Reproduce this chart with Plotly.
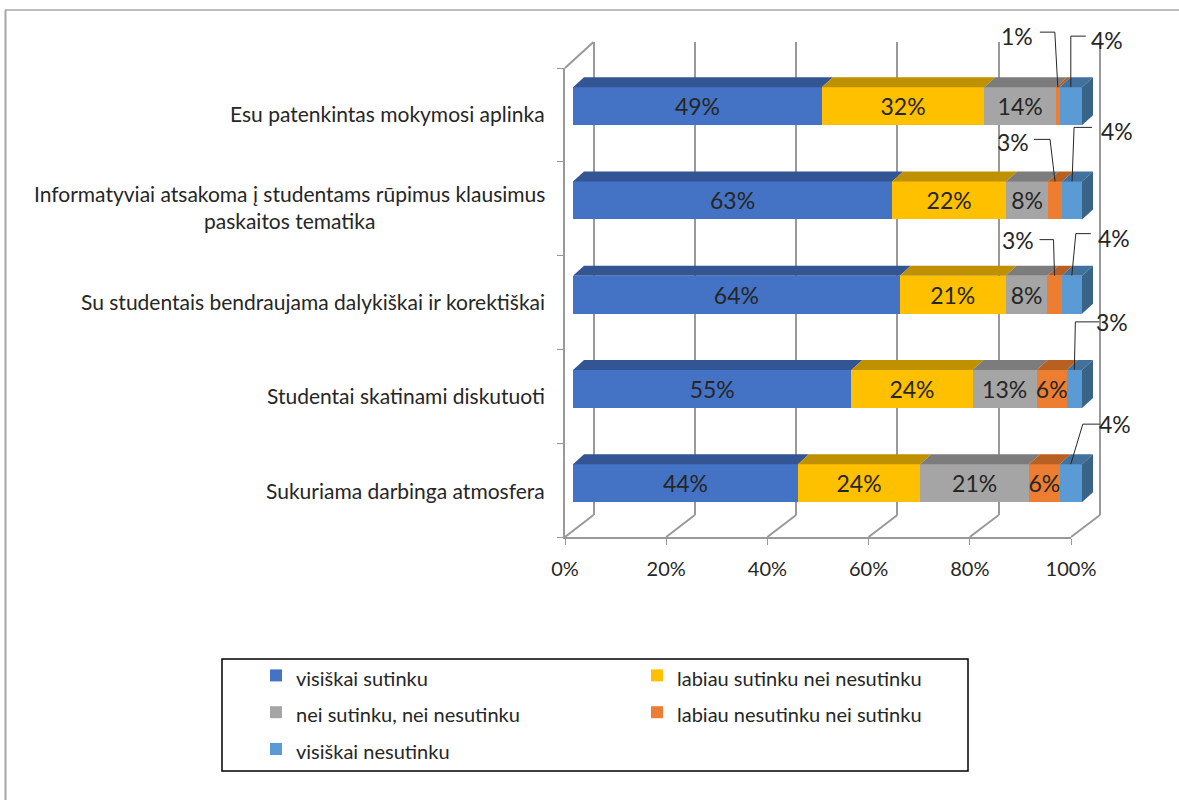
import plotly.graph_objects as go

W, H = 1179, 800
M_RIGHT = 45

categories = [
    "Esu patenkintas mokymosi aplinka",
    "Informatyviai atsakoma į studentams rūpimus klausimus<br>paskaitos tematika",
    "Su studentais bendraujama dalykiškai ir korektiškai",
    "Studentai skatinami diskutuoti",
    "Sukuriama darbinga atmosfera",
]
series_names = [
    "visiškai sutinku",
    "labiau sutinku nei nesutinku",
    "nei sutinku, nei nesutinku",
    "labiau nesutinku nei sutinku",
    "visiškai nesutinku",
]
visiskai_sutinku = [48.9, 62.7, 64.2, 54.7, 44.2]
labiau_sutinku = [31.9, 22.4, 20.8, 23.8, 24.0]
nei_nei = [14.1, 8.2, 8.2, 12.6, 21.4]
labiau_nesutinku = [0.7, 2.8, 2.8, 5.9, 6.0]
visiskai_nesutinku = [4.4, 3.9, 4.0, 3.0, 4.4]
series_values = [visiskai_sutinku, labiau_sutinku, nei_nei, labiau_nesutinku, visiskai_nesutinku]

front_colors = ["#4472C4", "#FFC000", "#A5A5A5", "#ED7D31", "#5B9BD5"]
top_colors = ["#335593", "#BF9000", "#7C7C7C", "#B85F22", "#41719C"]
side_color = "#386488"
grid_color = "#999999"
text_color = "#262626"
FONT = "Lato, Carlito, Calibri, sans-serif"

x_ticks = [0, 20, 40, 60, 80, 100]
x_tick_labels = ["0%", "20%", "40%", "60%", "80%", "100%"]

# Callouts: category index, series index, elbow offset from anchor, tail length, label offset from tail
callouts = [
    (0, 3, -3, -55, -15, -23, 4),
    (0, 4, 0, -51, 15, 21, 4),
    (1, 3, -5, -42, -16, -21, 3),
    (1, 4, 2, -54, 18, 25, 4),
    (2, 3, -1, -36, -14, -22, 0),
    (2, 4, 4, -42, 15, 23, 4),
    (3, 4, 1, -48, 24, 13, 0),
    (4, 4, 12, -40, 17, 15, 0),
]

# Pixel geometry of the pseudo-3D chart
FRONT_L, FRONT_R, FRONT_T, FRONT_B = 565, 1071, 68, 537
BACK_L, BACK_R, BACK_T, BACK_B = 593.5, 1100, 42, 515
BAR_L, BAR_UNIT, BAR_T, BAR_STEP = 573, 5.09, 59, 94.25
BAR_DEPTH_X, BAR_DEPTH_Y = 11, 10
BAR_THICK = 38


def fx(px):
    return px / (W - M_RIGHT)


def fy(py):
    return 1 - py / H


n = len(categories)
bar_half = BAR_THICK / BAR_STEP / 2
depth_x = BAR_DEPTH_X / BAR_UNIT
depth_y = BAR_DEPTH_Y / BAR_STEP
bar_range = (BACK_R - BAR_L) / BAR_UNIT
back_unit = (BACK_R - BACK_L) / 100

fig = go.Figure()

# Back wall subplot (gridlines only)
fig.add_trace(go.Scatter(x=[0], y=[0], mode="markers", marker=dict(opacity=0), hoverinfo="skip",
                         showlegend=False, xaxis="x", yaxis="y"))

# Cumulative stacks
cum = [[0.0] * n]
for vals in series_values:
    cum.append([a + b for a, b in zip(cum[-1], vals)])

callout_keys = {(c[0], c[1]) for c in callouts}
for s, (name, vals) in enumerate(zip(series_names, series_values)):
    labels = ["" if (i, s) in callout_keys else f"{v:.0f}%" for i, v in enumerate(vals)]
    fig.add_trace(go.Bar(
        name=f'<span style="font-size:20px">{name}</span>', x=vals, y=list(range(n)), orientation="h",
        marker=dict(color=front_colors[s], line=dict(width=0)),
        text=labels, textposition="inside", insidetextanchor="middle", textangle=0,
        constraintext="none", textfont=dict(family=FONT, size=23, color=text_color),
        xaxis="x2", yaxis="y2",
    ))

for s in range(len(series_values)):
    xs, ys = [], []
    for i in range(n):
        x0, x1 = cum[s][i], cum[s + 1][i]
        top = i - bar_half
        xs += [x0, x1, x1 + depth_x, x0 + depth_x, x0, None]
        ys += [top, top, top - depth_y, top - depth_y, top, None]
    fig.add_trace(go.Scatter(x=xs, y=ys, mode="lines", fill="toself", fillcolor=top_colors[s],
                             line=dict(width=0), hoverinfo="skip", showlegend=False,
                             xaxis="x2", yaxis="y2"))

xs, ys = [], []
for i in range(n):
    xe = cum[-1][i]
    top, bot = i - bar_half, i + bar_half
    xs += [xe, xe + depth_x, xe + depth_x, xe, xe, None]
    ys += [top, top - depth_y, bot - depth_y, bot, top, None]
fig.add_trace(go.Scatter(x=xs, y=ys, mode="lines", fill="toself", fillcolor=side_color,
                         line=dict(width=0), hoverinfo="skip", showlegend=False,
                         xaxis="x2", yaxis="y2"))

# Front-plane axes
fig.add_trace(go.Scatter(x=[0], y=[0], mode="markers", marker=dict(opacity=0), hoverinfo="skip",
                         showlegend=False, xaxis="x3", yaxis="y3"))

shapes = []


def seg(x0, y0, x1, y1, color=grid_color, width=2):
    shapes.append(dict(type="line", xref="paper", yref="paper", x0=fx(x0), y0=fy(y0), x1=fx(x1), y1=fy(y1),
                       line=dict(color=color, width=width), layer="below"))


# Chart frame (picture edge)
seg(5, 10, W, 10, "#A6A6A6", 1.5)
seg(5.5, 10, 5.5, H, "#A6A6A6", 2)
# Walls and floor
seg(FRONT_L, FRONT_T, BACK_L, BACK_T)
for t in x_ticks:
    fx_px = FRONT_L + (FRONT_R - FRONT_L) * t / 100
    bx_px = BACK_L + (BACK_R - BACK_L) * t / 100
    seg(fx_px, FRONT_B, bx_px, BACK_B)

# Legend box
shapes.append(dict(type="rect", xref="paper", yref="paper", x0=fx(222), x1=fx(968), y0=fy(659), y1=fy(771),
                   line=dict(color="#000000", width=1.5), layer="below"))

annotations = []
# Category labels: centred lines in a right-anchored block
for i, c in enumerate(categories):
    annotations.append(dict(text=c, xref="paper", yref="y2", x=fx(547), y=i, xanchor="right", yanchor="middle",
                            yshift=-7, align="center", showarrow=False,
                            font=dict(family=FONT, size=21, color=text_color)))

# Callouts built from the data
for i, s, ex, ey, tail, lx, ly in callouts:
    mid = (cum[s][i] + cum[s + 1][i]) / 2
    ax = BAR_L + BAR_UNIT * mid
    ay = BAR_T + BAR_STEP * (i + 0.5) - BAR_THICK / 2
    elx, ely = ax + ex, ay + ey
    tx = elx + tail
    path = f"M {fx(tx)} {fy(ely)} L {fx(elx)} {fy(ely)} L {fx(ax)} {fy(ay)}"
    shapes.append(dict(type="path", path=path, xref="paper", yref="paper",
                       line=dict(color="#262626", width=1), layer="above"))
    annotations.append(dict(text=f"{series_values[s][i]:.0f}%", xref="paper", yref="paper",
                            x=fx(tx + lx), y=fy(ely + ly), xanchor="center", yanchor="middle", showarrow=False,
                            font=dict(family=FONT, size=23, color=text_color)))

fig.update_layout(
    width=W, height=H, margin=dict(l=0, r=M_RIGHT, t=0, b=0, autoexpand=False), autosize=False,
    paper_bgcolor="white", plot_bgcolor="rgba(0,0,0,0)",
    barmode="stack", bargap=1 - BAR_THICK / BAR_STEP,
    shapes=shapes, annotations=annotations,
    hovermode=False,
    legend=dict(orientation="h", x=fx(256), y=fy(652), xanchor="left", yanchor="top",
                entrywidth=336, entrywidthmode="pixels", traceorder="normal",
                bgcolor="rgba(0,0,0,0)", font=dict(family=FONT, size=26, color=text_color)),
    # back wall
    xaxis=dict(domain=[fx(BACK_L - back_unit), fx(BACK_R + back_unit)], range=[-1, 101], tickvals=x_ticks,
               showgrid=True, gridcolor=grid_color, gridwidth=2, showticklabels=False, ticks="", zeroline=False,
               showline=False, anchor="y"),
    yaxis=dict(domain=[fy(BACK_B), fy(BACK_T)], range=[0, 1], showgrid=False, showticklabels=False,
               zeroline=False, showline=False, anchor="x"),
    # bars
    xaxis2=dict(domain=[fx(BAR_L), fx(BACK_R)], range=[0, bar_range], showgrid=False, showticklabels=False,
                ticks="", zeroline=False, showline=False, anchor="y2"),
    yaxis2=dict(domain=[fy(BAR_T + BAR_STEP * n), fy(BAR_T)], range=[n - 0.5, -0.5], showgrid=False,
                showticklabels=False, ticks="", zeroline=False, showline=False, anchor="x2"),
    # front plane
    xaxis3=dict(domain=[fx(FRONT_L), fx(FRONT_R)], range=[0, 100], tickvals=x_ticks, ticktext=x_tick_labels,
                ticks="outside", ticklen=6, tickcolor=grid_color, tickwidth=1, showgrid=False, zeroline=False,
                showline=True, linecolor=grid_color, linewidth=2, anchor="y3", ticklabelstandoff=7,
                tickfont=dict(family=FONT, size=20, color=text_color)),
    yaxis3=dict(domain=[fy(FRONT_B), fy(FRONT_T)], range=[n - 0.5, -0.5],
                tickvals=[k - 0.5 for k in range(n + 1)], showticklabels=False, ticks="outside", ticklen=6,
                tickcolor=grid_color, tickwidth=1, showgrid=False, zeroline=False, showline=True,
                linecolor=grid_color, linewidth=2, anchor="x3"),
)

fig.write_html("out.html", post_script="document.body.style.margin='0';document.body.style.overflow='hidden';",
               config=dict(displayModeBar=False))
